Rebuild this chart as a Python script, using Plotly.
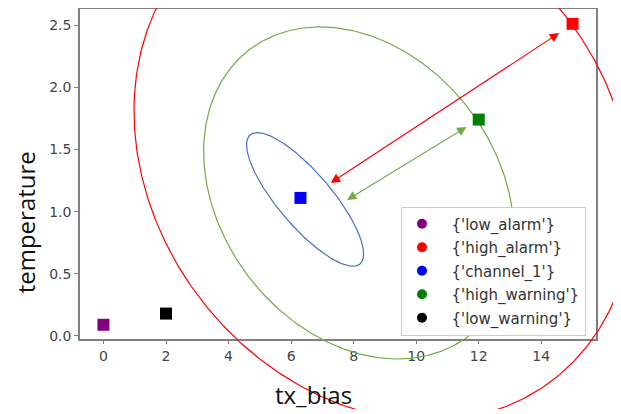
import numpy as np
import plotly.graph_objects as go

# ---------------- data ----------------
names = ["{'low_alarm'}", "{'high_alarm'}", "{'channel_1'}", "{'high_warning'}", "{'low_warning'}"]
tx_bias = [0, 15, 6.3, 12, 2]
temperature = [0.09, 2.51, 1.11, 1.74, 0.18]
colors = ["#800080", "#ff0000", "#0000ff", "#008000", "#000000"]

x_ticks = [0, 2, 4, 6, 8, 10, 12, 14]
y_ticks = [0.0, 0.5, 1.0, 1.5, 2.0, 2.5]

# ellipses (data units): centre, semi-axes, rotation
ell_cx = [6.448, 8.167, 8.956]
ell_cy = [1.098, 1.150, 1.430]
ell_a = [1.924, 4.976, 7.989]
ell_b = [0.303, 1.290, 2.075]
ell_angle = [166.5, 175.88, 177.07]
ell_colors = ["#4472c4", "#70ad47", "#ff0000"]

# double-headed arrows: (from, to)
arrow_x0 = [7.22, 7.74]
arrow_y0 = [1.223, 1.086]
arrow_x1 = [14.57, 11.61]
arrow_y1 = [2.436, 1.681]
arrow_colors = ["#ff0000", "#70ad47"]

# ---------------- layout geometry ----------------
OFF = 8  # page body margin
W, H = 621 - OFF, 414 - OFF
L, R, T, B = 80 - OFF, 596 - OFF, 9.3 - OFF, 342.7 - OFF
xr = [-0.75, 15.75]
yr = [-0.021, 2.627]
sx = (xr[1] - xr[0]) / (R - L)
sy = (yr[1] - yr[0]) / (B - T)
x2r = [xr[0] - L * sx, xr[1] + (W - R) * sx]
y2r = [yr[0] - (H - B) * sy, yr[1] + T * sy]

fig = go.Figure()
# anchor trace so the framed axes are drawn
fig.add_trace(go.Scatter(x=[None], y=[None], xaxis="x", yaxis="y", showlegend=False, hoverinfo="skip"))

t = np.linspace(0, 2 * np.pi, 500)
for cx, cy, a, b, ang, col in zip(ell_cx, ell_cy, ell_a, ell_b, ell_angle, ell_colors):
    th = np.radians(ang)
    ex = cx + a * np.cos(th) * np.cos(t) - b * np.sin(th) * np.sin(t)
    ey = cy + a * np.sin(th) * np.cos(t) + b * np.cos(th) * np.sin(t)
    fig.add_trace(go.Scatter(x=ex, y=ey, mode="lines", line=dict(color=col, width=1.2),
                             xaxis="x2", yaxis="y2", showlegend=False, hoverinfo="skip"))

for xv, yv, col in zip(tx_bias, temperature, colors):
    fig.add_trace(go.Scatter(x=[xv], y=[yv], mode="markers", xaxis="x2", yaxis="y2",
                             marker=dict(symbol="square", size=12, color=col), showlegend=False))
for nm, col in zip(names, colors):
    fig.add_trace(go.Scatter(x=[None], y=[None], mode="markers", xaxis="x2", yaxis="y2",
                             name="\u00a0\u00a0" + nm, legendgroup=nm,
                             marker=dict(symbol="circle", size=10, color=col)))

for x0, y0, x1, y1, col in zip(arrow_x0, arrow_y0, arrow_x1, arrow_y1, arrow_colors):
    fig.add_annotation(x=x1, y=y1, ax=x0, ay=y0, xref="x2", yref="y2", axref="x2", ayref="y2",
                       text="", showarrow=True, arrowside="end+start", arrowhead=2,
                       arrowsize=1.7, arrowwidth=1.1, arrowcolor=col, standoff=0, startstandoff=0)

fig.add_annotation(x=(25 - OFF) / W, y=1 - (225 - OFF) / H, xref="paper", yref="paper",
                   text="temperature", textangle=-90, xanchor="center", yanchor="middle",
                   showarrow=False, font=dict(family="Open Sans", size=24, color="#111"))
fig.add_annotation(x=(313 - OFF) / W, y=1 - (399 - OFF) / H, xref="paper", yref="paper",
                   text="tx_bias", xanchor="center", yanchor="middle",
                   showarrow=False, font=dict(family="Open Sans", size=24, color="#111"))

axis_common = dict(showline=True, mirror=True, linecolor="#808080", linewidth=1.5,
                   ticks="outside", ticklen=4, tickcolor="#808080", showgrid=False, zeroline=False,
                   tickfont=dict(family="DejaVu Sans", size=14, color="#444"))
fig.update_layout(
    width=W, height=H, margin=dict(l=0, r=0, t=0, b=0),
    paper_bgcolor="white", plot_bgcolor="rgba(0,0,0,0)",
    xaxis=dict(domain=[L / W, R / W], range=xr, anchor="y", tickvals=x_ticks, **axis_common),
    yaxis=dict(domain=[1 - B / H, 1 - T / H], range=yr, anchor="x", tickvals=y_ticks,
               tickformat=".1f", **axis_common),
    xaxis2=dict(domain=[0, 1], range=x2r, anchor="y2", visible=False),
    yaxis2=dict(domain=[0, 1], range=y2r, anchor="x2", visible=False),
    showlegend=True,
    legend=dict(x=(401 - OFF) / W, y=1 - (209 - OFF) / H, xanchor="left", yanchor="top",
                bgcolor="white", bordercolor="#cccccc", borderwidth=1, tracegroupgap=1,
                font=dict(family="DejaVu Sans", size=15, color="#333")),
)
fig.write_html("out.html")
